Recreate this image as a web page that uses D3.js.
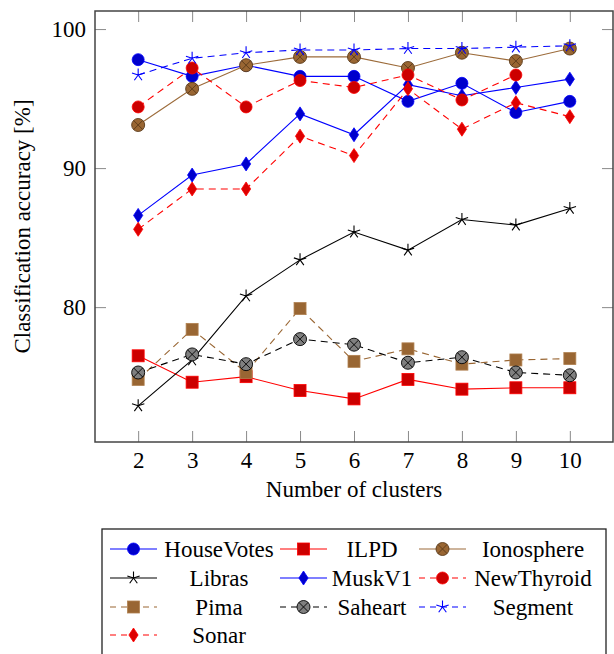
<!DOCTYPE html>
<html>
<head>
<meta charset="utf-8">
<script src="https://cdnjs.cloudflare.com/ajax/libs/d3/7.8.5/d3.min.js"></script>
<style>
  body { margin: 0; background: #fff; }
  svg, svg text { font-family: "Liberation Serif", "Times New Roman", serif; }
  svg { display: block; }
  .tick text { font-size: 23px; fill: #000; }
  .tick line { stroke: #8a8a8a; stroke-width: 1; }
</style>
</head>
<body>
<div id="chart"></div>
<script>
// data
var clusters = [2, 3, 4, 5, 6, 7, 8, 9, 10];
var yTicks = [80, 90, 100];

var houseVotes = [97.8, 96.6, 97.4, 96.6, 96.6, 94.8, 96.1, 94.0, 94.8];
var ilpd       = [76.5, 74.6, 75.0, 74.0, 73.4, 74.8, 74.1, 74.2, 74.2];
var ionosphere = [93.1, 95.7, 97.4, 98.0, 98.0, 97.2, 98.3, 97.7, 98.6];
var libras     = [72.9, 76.2, 80.8, 83.4, 85.4, 84.1, 86.3, 85.9, 87.1];
var muskV1     = [86.6, 89.5, 90.3, 93.9, 92.4, 96.0, 95.2, 95.8, 96.4];
var newThyroid = [94.4, 97.2, 94.4, 96.3, 95.8, 96.7, 94.9, 96.7];
var pima       = [74.8, 78.4, 75.3, 79.9, 76.1, 77.0, 75.9, 76.2, 76.3];
var saheart    = [75.3, 76.6, 75.9, 77.7, 77.3, 76.0, 76.4, 75.3, 75.1];
var segment    = [96.7, 97.9, 98.3, 98.5, 98.5, 98.6, 98.6, 98.7, 98.8];
var sonar      = [85.6, 88.5, 88.5, 92.3, 90.9, 95.7, 92.8, 94.7, 93.7];

var series = [
  {name: "HouseVotes", values: houseVotes, line: "#0000ff", fill: "#0000cc", mark: "circle",  dash: null},
  {name: "ILPD",       values: ilpd,       line: "#ff0000", fill: "#cc0000", mark: "square",  dash: null},
  {name: "Ionosphere", values: ionosphere, line: "#9c6b3a", fill: "#996633", mark: "otimes",  dash: null, cross: "#5a3a1a"},
  {name: "Libras",     values: libras,     line: "#000000", fill: "#000000", mark: "star",    dash: null},
  {name: "MuskV1",     values: muskV1,     line: "#0000ff", fill: "#0000cc", mark: "diamond", dash: null},
  {name: "NewThyroid", values: newThyroid, line: "#ff0000", fill: "#cc0000", mark: "circle",  dash: "7,5"},
  {name: "Pima",       values: pima,       line: "#996633", fill: "#996633", mark: "square",  dash: "7,5", edge: "#b08050"},
  {name: "Saheart",    values: saheart,    line: "#000000", fill: "#808080", mark: "otimes",  dash: "7,5", cross: "#000000", edge: "#000000"},
  {name: "Segment",    values: segment,    line: "#0000ff", fill: "#0000ff", mark: "star",    dash: "7,5"},
  {name: "Sonar",      values: sonar,      line: "#ff0000", fill: "#dd0000", mark: "diamond", dash: "7,5"}
];

var W = 614, H = 654;
var margin = {top: 11, left: 95},
    width = 518, height = 431;

var svg = d3.select("#chart").append("svg")
    .attr("width", W)
    .attr("height", H);

var x = d3.scaleLinear().domain([1.2, 10.8]).range([0, width]);
var y = d3.scaleLinear().domain([70.3, 101.3]).range([height, 0]);

var g = svg.append("g")
    .attr("transform", "translate(" + margin.left + "," + margin.top + ")");

function clean(a) {
  a.select(".domain").remove();
  a.attr("font-family", null).attr("font-size", null);
}

// axes, ticks pointing inward on all four sides
g.append("g")
    .attr("transform", "translate(0," + height + ")")
    .call(d3.axisBottom(x).tickValues(clusters).tickSize(-11).tickPadding(9))
    .call(clean)
    .call(function(a) { a.selectAll("text").attr("dy", "0.72em"); });
g.append("g")
    .call(d3.axisTop(x).tickValues(clusters).tickSize(-11).tickFormat(""))
    .call(clean);
g.append("g")
    .call(d3.axisLeft(y).tickValues(yTicks).tickSize(-11).tickPadding(9))
    .call(clean);
g.append("g")
    .attr("transform", "translate(" + width + ",0)")
    .call(d3.axisRight(y).tickValues(yTicks).tickSize(-11).tickFormat(""))
    .call(clean);

g.append("rect")
    .attr("width", width)
    .attr("height", height)
    .attr("fill", "none")
    .attr("stroke", "#444")
    .attr("stroke-width", 1.5);

svg.append("text")
    .attr("x", margin.left + width / 2)
    .attr("y", 497)
    .attr("text-anchor", "middle")
    .style("font-size", "23px")
    .text("Number of clusters");

svg.append("text")
    .attr("transform", "translate(30," + (margin.top + height / 2) + ") rotate(-90)")
    .attr("text-anchor", "middle")
    .style("font-size", "23px")
    .text("Classification accuracy [%]");

// marker drawing
function drawMark(sel, s, cx, cy) {
  var m = sel.append("g").attr("transform", "translate(" + cx + "," + cy + ")");
  if (s.mark === "circle") {
    m.append("circle").attr("r", 6).attr("fill", s.fill).attr("stroke", s.line).attr("stroke-width", 0.8);
  } else if (s.mark === "square") {
    m.append("rect").attr("x", -6).attr("y", -6).attr("width", 12).attr("height", 12)
      .attr("fill", s.fill).attr("stroke", s.edge || s.line).attr("stroke-width", 0.8);
  } else if (s.mark === "diamond") {
    m.append("path").attr("d", "M0,-7L4.6,0L0,7L-4.6,0Z")
      .attr("fill", s.fill).attr("stroke", s.line).attr("stroke-width", 0.8);
  } else if (s.mark === "star") {
    var d = "";
    for (var i = 0; i < 5; i++) {
      var a = -Math.PI / 2 + i * 2 * Math.PI / 5;
      d += "M0,0L" + (6.5 * Math.cos(a)).toFixed(2) + "," + (6.5 * Math.sin(a)).toFixed(2);
    }
    m.append("path").attr("d", d).attr("fill", "none").attr("stroke", s.line).attr("stroke-width", 1.1);
  } else if (s.mark === "otimes") {
    var r = 6.5, k = r * 0.707;
    m.append("circle").attr("r", r).attr("fill", s.fill).attr("stroke", s.edge || s.cross).attr("stroke-width", 0.9);
    m.append("path").attr("d", "M" + (-k) + "," + (-k) + "L" + k + "," + k + "M" + (-k) + "," + k + "L" + k + "," + (-k))
      .attr("stroke", s.cross).attr("stroke-width", 0.9);
  }
}

var line = d3.line()
    .x(function(d, i) { return x(clusters[i]); })
    .y(function(d) { return y(d); });

series.forEach(function(s) {
  var sg = g.append("g");
  sg.append("path")
      .attr("d", line(s.values))
      .attr("fill", "none")
      .attr("stroke", s.line)
      .attr("stroke-width", 1.1)
      .attr("stroke-dasharray", s.dash);
  s.values.forEach(function(v, i) { drawMark(sg, s, x(clusters[i]), y(v)); });
});

// legend
var leg = svg.append("g");
leg.append("rect")
    .attr("x", 102).attr("y", 529)
    .attr("width", 504).attr("height", 140)
    .attr("fill", "#fff")
    .attr("stroke", "#222")
    .attr("stroke-width", 1.3);

var colLine = [110, 280, 419], colText = [219, 372, 533], rowY = [549, 578, 607, 635];
series.forEach(function(s, i) {
  var c = i % 3, r = Math.floor(i / 3);
  var ly = rowY[r];
  leg.append("line")
      .attr("x1", colLine[c]).attr("x2", colLine[c] + 47)
      .attr("y1", ly).attr("y2", ly)
      .attr("stroke", s.line)
      .attr("stroke-width", 1.1)
      .attr("stroke-dasharray", s.dash ? "6,5" : null);
  drawMark(leg, s, colLine[c] + 23.5, ly);
  leg.append("text")
      .attr("x", colText[c])
      .attr("y", ly)
      .attr("dy", "0.35em")
      .attr("text-anchor", "middle")
      .style("font-size", "23px")
      .text(s.name);
});
</script>
</body>
</html>
